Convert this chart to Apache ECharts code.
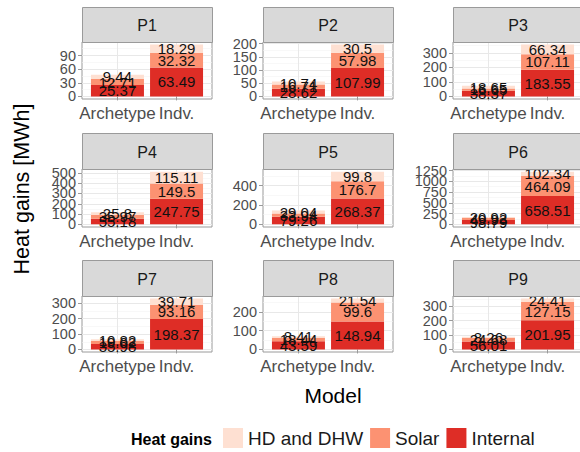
<!DOCTYPE html>
<html><head><meta charset="utf-8">
<script src="https://cdn.jsdelivr.net/npm/echarts@6/dist/echarts.min.js"></script>
<style>html,body{margin:0;padding:0;background:#fff}#c{width:580px;height:452px}</style>
</head><body><div id="c"></div>
<script>
// ---- data ----
const panels = ['P1','P2','P3','P4','P5','P6','P7','P8','P9'];
const models = ['Archetype','Indv.'];
const internal = [[25.37,63.49],[28.62,107.99],[38.37,183.55],[55.18,247.75],[79.26,268.37],[98.79,658.51],[35.98,198.37],[43.59,148.94],[56.01,201.95]];
const solar    = [[12.71,32.32],[16.71,57.98],[16.65,107.11],[35.97,149.5],[33.94,176.7],[49.93,464.09],[19.02,93.16],[18.44,99.6],[24.68,127.15]];
const hdDhw    = [[9.44,18.29],[10.74,30.5],[18.65,66.34],[25.8,115.11],[29.04,99.8],[20.92,102.34],[10.82,39.71],[8.41,21.54],[8.26,24.41]];
const yTicks = [[0,30,60,90],[0,50,100,150,200],[0,100,200,300],[0,100,200,300,400,500],[0,200,400],[0,250,500,750,1000,1250],[0,100,200,300],[0,100,200],[0,100,200,300]];
const legendNames = ['HD and DHW','Solar','Internal'];

// ---- layout / style ----
const FONT = '"Liberation Sans", Arial, Helvetica, sans-serif';
const colLeft = [82, 263, 453], stripTop = [7, 133, 260], plotTop = [42, 169, 296], plotH = [57, 58, 56], panelW = 130;
const BORDER = '#9a9a9a';
const colors = {'Internal':'#de2d26','Solar':'#fc9272','HD and DHW':'#fee0d2'};
const yLabelStyle = {margin: 6, showMinLabel: true, showMaxLabel: true, hideOverlap: false,
  fontSize: 14.5, color: '#4d4d4d', fontFamily: FONT, formatter: v => String(v)};

const grids = [], xAxes = [], yAxes = [], series = [], graphics = [];
panels.forEach((name, i) => {
  const r = Math.floor(i / 3), c = i % 3;
  const left = colLeft[c], top = plotTop[r], h = plotH[r];
  grids.push({left, top, width: panelW, height: h, show: true, backgroundColor: '#fff',
    borderColor: BORDER, borderWidth: 1, containLabel: false, outerBoundsMode: 'none'});
  const totals = models.map((m, j) => internal[i][j] + solar[i][j] + hdDhw[i][j]);
  const maxT = Math.max(...totals);
  const ymin = -0.05 * maxT, ymax = 1.05 * maxT;
  const majors = yTicks[i];
  const evens = majors.filter((v, k) => k % 2 === 0);
  const odds = majors.filter((v, k) => k % 2 === 1);
  const step = majors[1] - majors[0];
  const minors = [];
  for (let k = 0; k < majors.length + 1; k++) {
    const v = majors[0] + step * (k + 0.5);
    if (v < ymax) minors.push(v);
  }
  xAxes.push({type: 'value', gridIndex: i, min: 0.4, max: 2.6,
    axisLine: {show: false},
    axisTick: {show: true, customValues: [1, 2], length: 4, lineStyle: {color: BORDER}},
    axisLabel: {customValues: [1, 2], formatter: v => models[Math.round(v) - 1], margin: 6,
      showMinLabel: true, showMaxLabel: true, hideOverlap: false,
      fontSize: 17, color: '#4d4d4d', fontFamily: FONT},
    splitLine: {show: true, lineStyle: {color: '#e8e8e8', width: 1}}});
  const base = yAxes.length;
  // main axis: ticks + major grid + even labels
  yAxes.push({type: 'value', gridIndex: i, min: ymin, max: ymax, position: 'left',
    axisLine: {show: false},
    axisTick: {show: true, customValues: majors, length: 4, lineStyle: {color: BORDER}},
    axisLabel: Object.assign({customValues: evens}, yLabelStyle),
    splitLine: {show: true, lineStyle: {color: '#e8e8e8', width: 1}}});
  // odd labels
  yAxes.push({type: 'value', gridIndex: i, min: ymin, max: ymax, position: 'left',
    axisLine: {show: false},
    axisTick: {show: false, customValues: odds},
    axisLabel: Object.assign({customValues: odds}, yLabelStyle),
    splitLine: {show: false}});
  // minor grid
  yAxes.push({type: 'value', gridIndex: i, min: ymin, max: ymax, position: 'left',
    axisLine: {show: false},
    axisTick: {show: false, customValues: minors},
    axisLabel: {show: false},
    splitLine: {show: true, lineStyle: {color: '#f3f3f3', width: 0.6}}});
  [['Internal', internal], ['Solar', solar], ['HD and DHW', hdDhw]].forEach(([nm, arr]) => {
    series.push({type: 'bar', name: nm, xAxisIndex: i, yAxisIndex: base, stack: 's' + i,
      barWidth: 53, itemStyle: {color: colors[nm]},
      encode: {x: 1, y: 0},
      data: models.map((m, j) => [arr[i][j], j + 1]),
      label: {show: true, position: 'inside', formatter: p => String(p.value[0]),
        color: '#111', fontSize: 15, fontFamily: FONT},
      emphasis: {disabled: true}, animation: false});
  });
  // strip
  graphics.push({type: 'rect', shape: {x: left + 0.5, y: stripTop[r] + 0.5, width: panelW, height: top - stripTop[r]},
    style: {fill: '#d9d9d9', stroke: BORDER, lineWidth: 1}, z: 10});
  graphics.push({type: 'text', x: left + panelW / 2, y: stripTop[r] + (top - stripTop[r]) / 2 + 1,
    style: {text: name, fontSize: 16, fontFamily: FONT, fill: '#1a1a1a', align: 'center', verticalAlign: 'middle'}, z: 11});
});

graphics.push({type: 'text', x: 22, y: 189, rotation: Math.PI / 2,
  style: {text: 'Heat gains [MWh]', fontSize: 21.5, fontFamily: FONT, fill: '#000', align: 'center', verticalAlign: 'middle'}});
graphics.push({type: 'text', x: 333, y: 395,
  style: {text: 'Model', fontSize: 21, fontFamily: FONT, fill: '#000', align: 'center', verticalAlign: 'middle'}});
graphics.push({type: 'text', x: 131, y: 439,
  style: {text: 'Heat gains', fontSize: 16, fontWeight: 'bold', fontFamily: FONT, fill: '#000', align: 'left', verticalAlign: 'middle'}});

const chart = echarts.init(document.getElementById('c'), null, {renderer: 'svg'});
chart.setOption({
  animation: false,
  backgroundColor: '#fff',
  grid: grids, xAxis: xAxes, yAxis: yAxes, series,
  legend: {data: legendNames, left: 223, top: 428, padding: 0, itemWidth: 20, itemHeight: 20, itemGap: 7,
    icon: 'rect', selectedMode: false,
    textStyle: {fontSize: 19, color: '#1a1a1a', fontFamily: FONT}},
  graphic: graphics
});
</script></body></html>
